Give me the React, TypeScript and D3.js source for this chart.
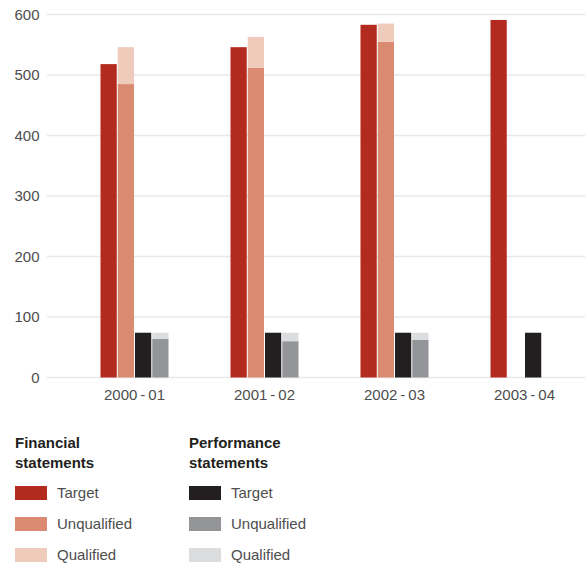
import React from "react";
import * as d3 from "d3";

// Audit outcomes per year
const years = ["2000-01", "2001-02", "2002-03", "2003-04"];
const yearLabels = ["2000\u2009-\u200901", "2001\u2009-\u200902", "2002\u2009-\u200903", "2003\u2009-\u200904"];

const finTarget = [518, 546, 583, 591];
const finUnqualified = [485, 512, 555, null];
const finQualified = [61, 51, 30, null];

const perfTarget = [74, 74, 74, 74];
const perfUnqualified = [64, 60, 62, null];
const perfQualified = [10, 14, 12, null];

const yTicks = [0, 100, 200, 300, 400, 500, 600];

const colors = {
  finTarget: "#b22b1e",
  finUnq: "#d98a70",
  finQual: "#efcbbb",
  perfTarget: "#231f20",
  perfUnq: "#939598",
  perfQual: "#dcddde",
};

const W = 585;
const H = 564;
const FONT = "'Liberation Sans', Arial, Helvetica, sans-serif";

export default function App() {
  const y = d3.scaleLinear().domain([0, 600]).range([377.5, 14.5]);
  const x = d3.scaleBand<string>().domain(years).range([69.5, 589.5]).paddingInner(0).paddingOuter(0);
  const slot = d3
    .scaleBand<number>()
    .domain([0, 1, 2, 3])
    .range([(x.bandwidth() - 68) / 2, (x.bandwidth() + 68) / 2])
    .paddingInner(1 / 17);
  const bw = slot.bandwidth();

  const bars: React.ReactNode[] = [];
  years.forEach((yr, i) => {
    const gx = x(yr)!;
    const addBar = (k: number, from: number, to: number, fill: string, key: string) => {
      bars.push(
        <rect
          key={key}
          x={gx + slot(k)!}
          y={y(to)}
          width={bw}
          height={y(from) - y(to)}
          fill={fill}
        />
      );
    };
    addBar(0, 0, finTarget[i], colors.finTarget, `ft${i}`);
    const fu = finUnqualified[i];
    const fq = finQualified[i];
    if (fu != null) {
      addBar(1, 0, fu, colors.finUnq, `fu${i}`);
      if (fq != null) addBar(1, fu, fu + fq, colors.finQual, `fq${i}`);
    }
    addBar(2, 0, perfTarget[i], colors.perfTarget, `pt${i}`);
    const pu = perfUnqualified[i];
    const pq = perfQualified[i];
    if (pu != null) {
      addBar(3, 0, pu, colors.perfUnq, `pu${i}`);
      if (pq != null) addBar(3, pu, pu + pq, colors.perfQual, `pq${i}`);
    }
  });

  const legendGroups = [
    {
      x: 15,
      title: ["Financial", "statements"],
      items: [
        ["Target", colors.finTarget],
        ["Unqualified", colors.finUnq],
        ["Qualified", colors.finQual],
      ],
    },
    {
      x: 189,
      title: ["Performance", "statements"],
      items: [
        ["Target", colors.perfTarget],
        ["Unqualified", colors.perfUnq],
        ["Qualified", colors.perfQual],
      ],
    },
  ];

  return (
    <svg
      width={W}
      height={H}
      style={{ position: "absolute", left: 0, top: 0, background: "#fff" }}
      fontFamily={FONT}
    >
      {yTicks.map((t) => (
        <g key={t}>
          <line x1={47} x2={585} y1={y(t)} y2={y(t)} stroke="#e8e8e8" strokeWidth={1.3} />
          <text x={39.5} y={y(t)} dy="0.35em" textAnchor="end" fontSize={15} fill="#4d4d4d">
            {t}
          </text>
        </g>
      ))}
      {bars}
      {years.map((yr, i) => (
        <text
          key={yr}
          x={x(yr)! + x.bandwidth() / 2}
          y={400}
          textAnchor="middle"
          fontSize={15}
          fill="#4d4d4d"
        >
          {yearLabels[i]}
        </text>
      ))}
      {legendGroups.map((g) => (
        <g key={g.x}>
          {g.title.map((line, j) => (
            <text key={line} x={g.x} y={448 + j * 20} fontSize={15} fontWeight="bold" fill="#231f20">
              {line}
            </text>
          ))}
          {g.items.map(([label, fill], j) => (
            <g key={label}>
              <rect x={g.x} y={486 + j * 31} width={32} height={14} fill={fill} />
              <text x={g.x + 42} y={498 + j * 31} fontSize={15} fill="#4d4d4d">
                {label}
              </text>
            </g>
          ))}
        </g>
      ))}
    </svg>
  );
}
